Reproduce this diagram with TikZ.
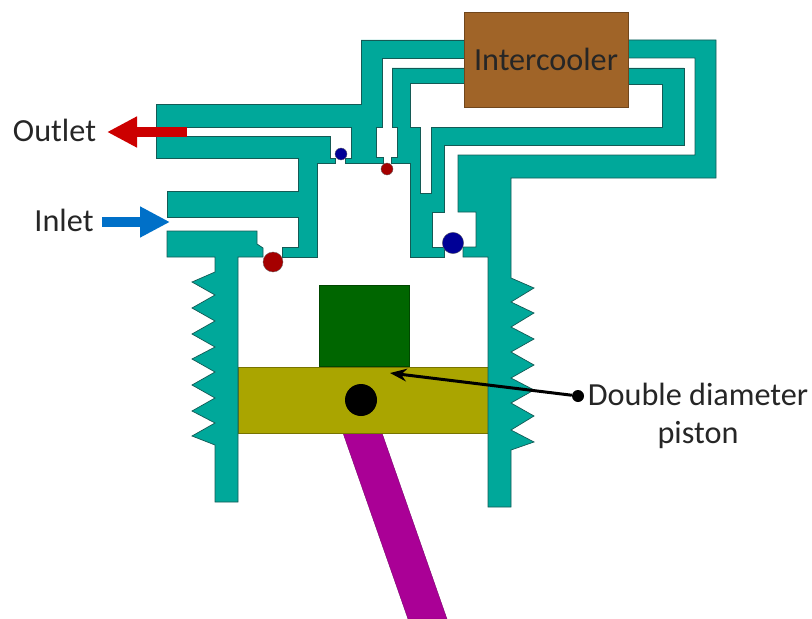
\documentclass[tikz,border=0pt]{standalone}
\usepackage{fontspec}
\setmainfont{Carlito}
\usetikzlibrary{arrows.meta}

\begin{document}
\begin{tikzpicture}[
    x=0.03cm, y=-0.03cm,
    % --- Styles ---
    wall/.style={draw=wallEdge, line width=0.6pt, fill=wallTeal, line join=miter},
    ball/.style={circle, draw=black!60, line width=0.3pt, inner sep=0pt},
    label_text/.style={align=center, font=\fontsize{27.5}{32}\selectfont, text=black!85},
    flow/.style={line width=0.3cm, -{Triangle[length=0.9cm, width=0.87cm]}},
    leader/.style={-{Stealth[length=0.5cm, width=0.38cm]}, line width=0.09cm, color=black}
]

    % --- Colors ---
    \definecolor{wallTeal}{RGB}{0,168,154}
    \definecolor{wallEdge}{RGB}{20,90,85}
    \definecolor{coolerBrown}{RGB}{160,100,40}
    \definecolor{pistonOlive}{RGB}{170,165,0}
    \definecolor{pistonGreen}{RGB}{0,102,0}
    \definecolor{rodPurple}{RGB}{170,0,150}
    \definecolor{ballRed}{RGB}{165,0,0}
    \definecolor{ballBlue}{RGB}{0,0,150}
    \definecolor{flowRed}{RGB}{204,0,0}
    \definecolor{flowBlue}{RGB}{0,112,200}

    \useasboundingbox (0,0) rectangle (812,619);

    % ==========================
    % 1. ROD AND PISTON
    % ==========================
    \draw[draw=rodPurple!70!black, line width=0.3pt, fill=rodPurple] (343,433) -- (382,433) -- (447,619) -- (408,619) -- cycle;
    \node[draw=pistonOlive!70!black, fill=pistonOlive, line width=0.6pt, minimum width=7.5cm, minimum height=1.98cm, inner sep=0pt] (piston) at (363,400) {};
    \node[draw=pistonGreen!70!black, fill=pistonGreen, line width=0.6pt, minimum width=2.7cm, minimum height=2.43cm, inner sep=0pt] (head) at (364,325.5) {};
    \node[circle, fill=black, minimum size=0.96cm, inner sep=0pt] (pin) at (361,400) {};

    % ==========================
    % 2. UPPER PASSAGES
    % ==========================

    % Outlet passage, upper wall
    \draw[wall] (156,104) -- (361,104) -- (361,40) -- (464,40) -- (464,58) -- (382,58) -- (382,127) -- (376,127) -- (376,157) -- (383,157) -- (383,163) -- (345,163) -- (345,158) -- (351,158) -- (351,127) -- (156,127) -- cycle;

    % Outlet passage, lower wall and inlet passage, upper wall
    \draw[wall] (156,136) -- (330,136) -- (330,158) -- (335,158) -- (335,163) -- (317,163) -- (317,257) -- (282,257) -- (282,247) -- (298,247) -- (298,217) -- (167,217) -- (167,191) -- (298,191) -- (298,158) -- (156,158) -- cycle;

    % Intercooler return, inner wall
    \draw[wall] (392,127) -- (392,68) -- (464,68) -- (464,83) -- (410,83) -- (410,127) -- (420,127) -- (420,193) -- (431,193) -- (431,127) -- (662,127) -- (662,84) -- (628,84) -- (628,68) -- (684,68) -- (684,145) -- (444,145) -- (444,212) -- (432,212) -- (432,247) -- (444,247) -- (444,257) -- (410,257) -- (410,163) -- (391,163) -- (391,157) -- (397,157) -- (397,127) -- cycle;

    % ==========================
    % 3. CYLINDER WALLS WITH FINS
    % ==========================

    % Left wall
    \draw[wall] (167,231) -- (257,231) -- (257,244) -- (263,248) -- (263,257) -- (238,257) -- (238,502) -- (215,502) -- (215,445)
        -- (192,436) -- (215,423) -- (192,411) -- (215,398) -- (192,385) -- (215,372) -- (192,359)
        -- (215,347) -- (192,334) -- (215,321) -- (192,308) -- (215,295) -- (192,282) -- (215,272)
        -- (215,257) -- (167,257) -- cycle;

    % Right wall
    \draw[wall] (628,40) -- (716,40) -- (716,178) -- (511,178) -- (511,278)
        -- (534,288) -- (511,302) -- (534,313) -- (511,327) -- (534,339) -- (511,352) -- (534,365)
        -- (511,378) -- (534,390) -- (511,403) -- (534,416) -- (511,430) -- (534,442) -- (511,450)
        -- (511,507) -- (488,507) -- (488,257) -- (463,257) -- (463,247) -- (476,247) -- (476,212) -- (458,212) -- (458,155) -- (695,155) -- (695,58) -- (628,58) -- cycle;

    % ==========================
    % 4. INTERCOOLER AND VALVES
    % ==========================
    \node[draw=coolerBrown!70!black, fill=coolerBrown, line width=0.7pt, minimum width=4.92cm, minimum height=2.85cm, inner sep=0pt, label_text] (cooler) at (546,59.5) {\raisebox{-1.5pt}{Intercooler}};

    \node[ball, fill=ballBlue, minimum size=0.36cm] (outValve) at (341,154) {};
    \node[ball, fill=ballRed, minimum size=0.36cm] (coolerValve) at (387,169) {};
    \node[ball, fill=ballRed, minimum size=0.6cm] (inValve) at (273,262) {};
    \node[ball, fill=ballBlue, minimum size=0.64cm] (returnValve) at (453,243) {};

    % ==========================
    % 5. FLOW ARROWS AND LABELS
    % ==========================
    \coordinate (outTail) at (187,132);
    \coordinate (outTip) at (107,132);
    \draw[flow, color=flowRed] (outTail) -- (outTip);
    \node[label_text] (outlet) at (54.5,130) {Outlet};

    \coordinate (inTail) at (102,222);
    \coordinate (inTip) at (170,222);
    \draw[flow, color=flowBlue] (inTail) -- (inTip);
    \node[label_text] (inlet) at (64,220) {Inlet};

    \node[circle, fill=black, minimum size=0.36cm, inner sep=0pt] (dot) at (578,396) {};
    \coordinate (pistonTip) at (390,373);
    \draw[leader] (dot) -- (pistonTip);
    \node[label_text] (pistonLabel) at (698,416) {Double diameter\\piston};

\end{tikzpicture}
\end{document}
